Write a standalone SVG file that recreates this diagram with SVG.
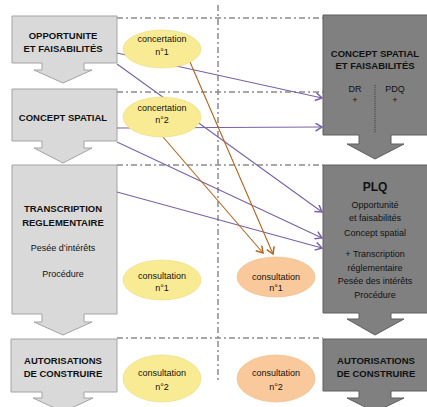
<svg xmlns="http://www.w3.org/2000/svg" width="427" height="407" viewBox="0 0 427 407">
<defs>
<marker id="mp" markerUnits="userSpaceOnUse" markerWidth="10" markerHeight="10" refX="7" refY="4.5" orient="auto"><path d="M0.5,0.5 L7,4.5 L0.5,8.5" fill="none" stroke="#7a62a6" stroke-width="1.5"/></marker>
<marker id="mo" markerUnits="userSpaceOnUse" markerWidth="10" markerHeight="10" refX="7" refY="4.5" orient="auto"><path d="M0.5,0.5 L7,4.5 L0.5,8.5" fill="none" stroke="#b5651d" stroke-width="1.5"/></marker>
<style>
.lb{fill:#d9d9d9;stroke:#a3a3a3;stroke-width:1}
.rb{fill:#808080;stroke:#5e5e5e;stroke-width:1}
.b{font-family:"Liberation Sans",Arial,sans-serif;font-weight:bold;font-size:9.5px;fill:#111;text-anchor:middle}
.r{font-family:"Liberation Sans",Arial,sans-serif;font-size:9px;fill:#111;text-anchor:middle}
.dash{stroke:#8c8c8c;stroke-width:1.5;fill:none;stroke-dasharray:6 3 2 3}
.pu{stroke:#7a62a6;stroke-width:1.1;fill:none;marker-end:url(#mp)}
.or{stroke:#b5651d;stroke-width:1.1;fill:none;marker-end:url(#mo)}
.ye{fill:#f8eb94;stroke:#eadb7c;stroke-width:0.6}
.oe{fill:#f9c99b;stroke:#ecb886;stroke-width:0.6}
</style>
</defs>
<rect width="427" height="407" fill="#fff"/>
<g id="grid">
<line class="dash" x1="218" y1="5" x2="218" y2="380"/>
<line class="dash" x1="117" y1="18" x2="323" y2="18"/>
<line class="dash" x1="117" y1="92" x2="323" y2="92"/>
<line class="dash" x1="117" y1="165" x2="323" y2="165"/>
<line class="dash" x1="117" y1="338" x2="323" y2="338"/>
</g>
<g id="opportunite">
<path class="lb" d="M12,16 H117 V63 H84 V70 H92 L63,83 L34,70 H42 V63 H12 Z"/>
<text class="b" x="63" y="38.5">OPPORTUNITE</text>
<text class="b" x="63" y="51.5">ET FAISABILITÉS</text>
</g>
<g id="concept">
<path class="lb" d="M12,89 H117 V141 H84 V148 H92 L63,163 L34,148 H42 V141 H12 Z"/>
<text class="b" x="63" y="120.5">CONCEPT SPATIAL</text>
</g>
<g id="transcription">
<path class="lb" d="M12,165 H117 V314 H84 V322 H92 L63,335 L34,322 H42 V314 H12 Z"/>
<text class="b" x="63" y="211.5">TRANSCRIPTION</text>
<text class="b" x="63" y="225.5">REGLEMENTAIRE</text>
<text class="r" x="63" y="251">Pesée d’intérêts</text>
<text class="r" x="63" y="277">Procédure</text>
</g>
<g id="autorisations-l">
<path class="lb" d="M11,339 H117 V392 H84 V398 H93 L63,412 L33,398 H42 V392 H11 Z"/>
<text class="b" x="63" y="363.5">AUTORISATIONS</text>
<text class="b" x="63" y="376.5">DE CONSTRUIRE</text>
</g>
<g id="concept-r">
<path class="rb" d="M323,15 H432 V135 H391 V144 H404 L375,159 L347,144 H359 V135 H323 Z"/>
<text class="b" x="375" y="56.5">CONCEPT SPATIAL</text>
<text class="b" x="375" y="68.5">ET FAISABILITÉS</text>
<text class="r" x="355" y="92">DR</text>
<text class="r" x="355" y="103">+</text>
<text class="r" x="395" y="92">PDQ</text>
<text class="r" x="395" y="103">+</text>
<line x1="375" y1="85" x2="375" y2="133" stroke="#333" stroke-width="1" stroke-dasharray="1 1.2"/>
</g>
<g id="plq">
<path class="rb" d="M323,165 H432 V313 H391 V319 H404 L375,335 L347,319 H359 V313 H323 Z"/>
<text class="b" x="375" y="190.5" style="font-size:12px">PLQ</text>
<text class="r" x="375" y="208.3">Opportunité</text>
<text class="r" x="375" y="220.5">et faisabilités</text>
<text class="r" x="375" y="236">Concept spatial</text>
<text class="r" x="375" y="256.5">+ Transcription</text>
<text class="r" x="375" y="270.5">réglementaire</text>
<text class="r" x="375" y="284">Pesée des intérêts</text>
<text class="r" x="375" y="298">Procédure</text>
</g>
<g id="autorisations-r">
<path class="rb" d="M323,339 H432 V391 H391 V398 H404 L375,412 L347,398 H359 V391 H323 Z"/>
<text class="b" x="376" y="363.5">AUTORISATIONS</text>
<text class="b" x="376" y="376.5">DE CONSTRUIRE</text>
</g>
<g id="connectors">
<line class="pu" x1="117" y1="53" x2="322" y2="98"/>
<line class="pu" x1="117" y1="64" x2="322" y2="212"/>
<line class="pu" x1="117" y1="128" x2="322" y2="127"/>
<line class="pu" x1="117" y1="142" x2="322" y2="238"/>
<line class="pu" x1="117" y1="192" x2="322" y2="248"/>
<line class="or" x1="190" y1="62" x2="273" y2="254"/>
<line class="or" x1="163" y1="137" x2="263" y2="253"/>
</g>
<g id="concertation1">
<ellipse class="ye" cx="162" cy="49" rx="39" ry="19"/>
<text class="r" x="162" y="42">concertation</text>
<text class="r" x="162" y="55">n°1</text>
</g>
<g id="concertation2">
<ellipse class="ye" cx="162" cy="117" rx="39" ry="20"/>
<text class="r" x="162" y="111">concertation</text>
<text class="r" x="162" y="123">n°2</text>
</g>
<g id="consultation1-y">
<ellipse class="ye" cx="162" cy="280" rx="39" ry="20"/>
<text class="r" x="162" y="279">consultation</text>
<text class="r" x="162" y="291">n°1</text>
</g>
<g id="consultation1-o">
<ellipse class="oe" cx="276" cy="277" rx="39" ry="20"/>
<text class="r" x="276" y="280">consultation</text>
<text class="r" x="276" y="291">n°1</text>
</g>
<g id="consultation2-y">
<ellipse class="ye" cx="162" cy="378.5" rx="39" ry="23.5"/>
<text class="r" x="162" y="376">consultation</text>
<text class="r" x="162" y="390">n°2</text>
</g>
<g id="consultation2-o">
<ellipse class="oe" cx="276" cy="378.5" rx="39" ry="23.5"/>
<text class="r" x="276" y="376">consultation</text>
<text class="r" x="276" y="390">n°2</text>
</g>
</svg>
